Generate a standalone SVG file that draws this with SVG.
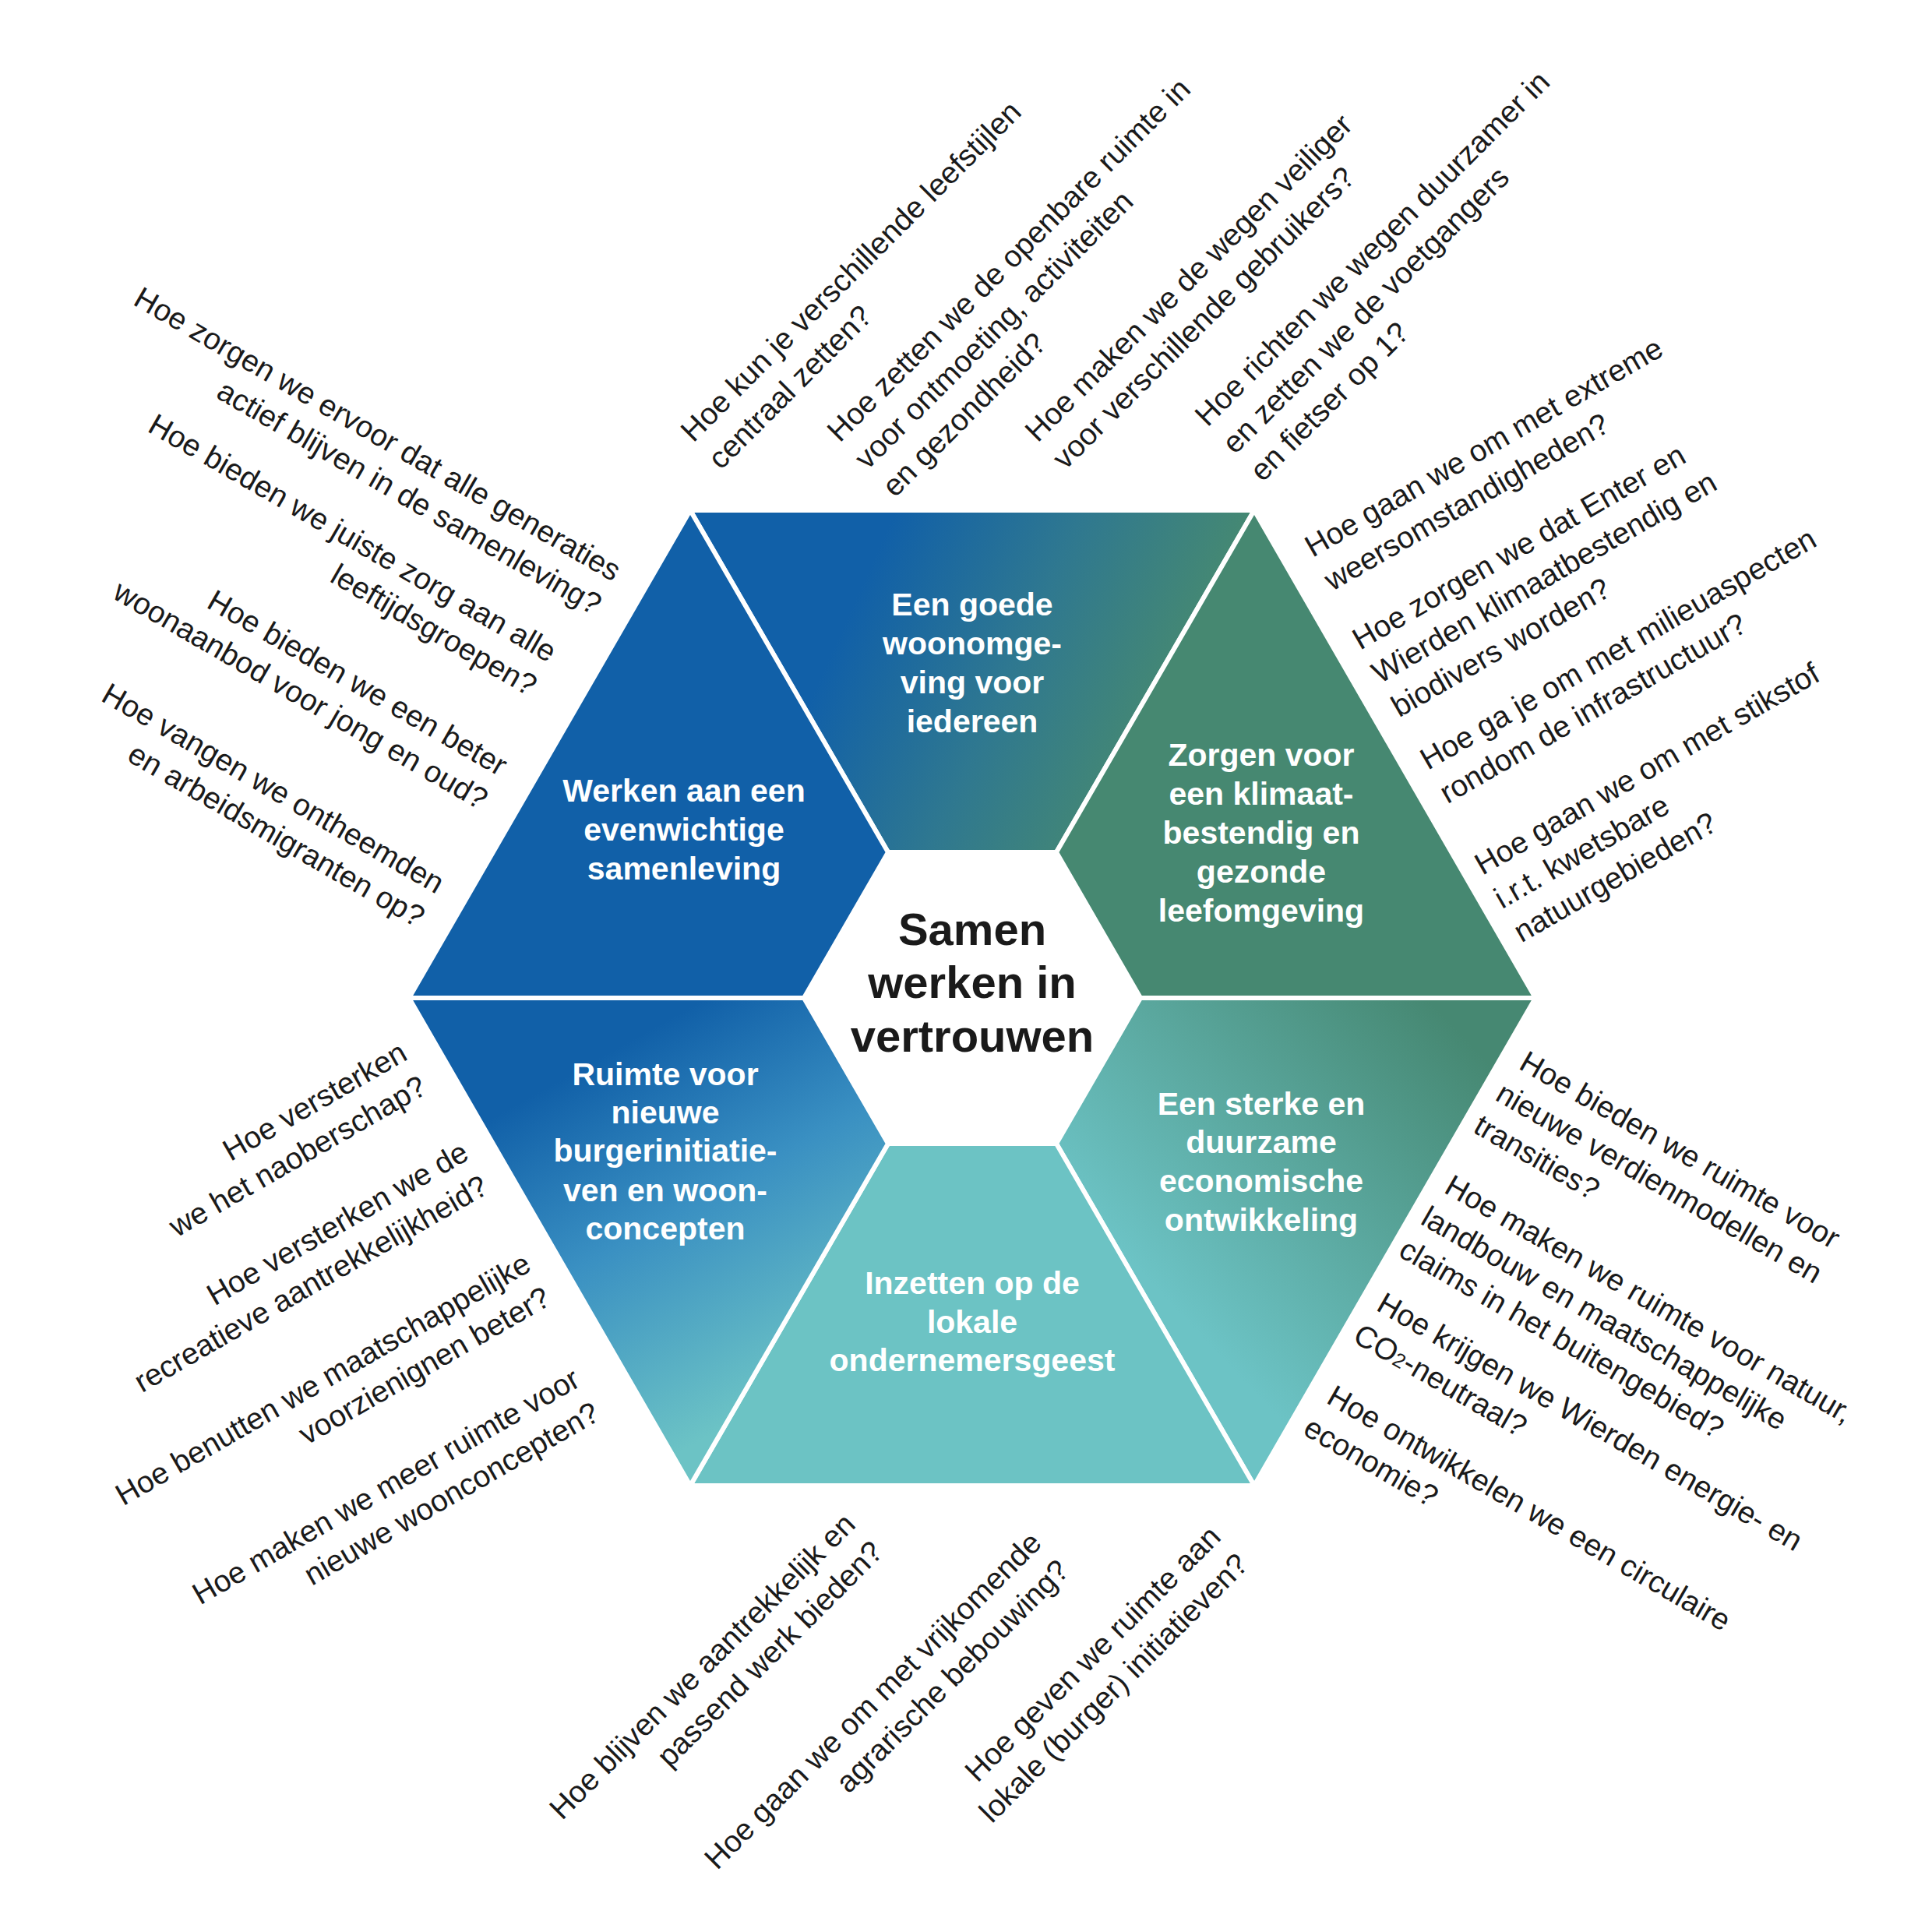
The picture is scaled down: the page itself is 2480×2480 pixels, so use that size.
<svg xmlns="http://www.w3.org/2000/svg" width="2480" height="2480" viewBox="0 0 2480 2480">
<defs>
<linearGradient id="gTop" gradientUnits="userSpaceOnUse" x1="1120" y1="720" x2="1520" y2="900"><stop offset="0" stop-color="#1160a8"/><stop offset="0.5" stop-color="#2f7890"/><stop offset="1" stop-color="#478a70"/></linearGradient>
<linearGradient id="gBR" gradientUnits="userSpaceOnUse" x1="1850" y1="1300" x2="1480" y2="1650"><stop offset="0" stop-color="#468872"/><stop offset="1" stop-color="#6cc3c5"/></linearGradient>
<linearGradient id="gBL" gradientUnits="userSpaceOnUse" x1="820" y1="1330" x2="1060" y2="1760"><stop offset="0" stop-color="#1160a8"/><stop offset="0.45" stop-color="#3a90c2"/><stop offset="1" stop-color="#6cc3c5"/></linearGradient>
</defs>
<style>
.seg{stroke:#fff;stroke-width:6;stroke-linejoin:miter}
.lab{font-family:"Liberation Sans",Arial,sans-serif;font-weight:bold;font-size:41px;fill:#fff;text-anchor:middle}
.ctr{font-family:"Liberation Sans",Arial,sans-serif;font-weight:bold;font-size:58px;fill:#1a1a1a;text-anchor:middle}
.q{font-family:"Liberation Sans",Arial,sans-serif;font-size:39px;fill:#1a1a1a}
.e{text-anchor:end}
</style>
<rect width="2480" height="2480" fill="#fff"/>
<g id="hexagon">
<polygon id="seg-top" class="seg" fill="url(#gTop)" points="886,655 1610,655 1356,1094 1140,1094"/>
<polygon id="seg-tr" class="seg" fill="#468871" points="1610,655 1971,1281 1464,1281 1356,1094"/>
<polygon id="seg-br" class="seg" fill="url(#gBR)" points="1971,1281 1610,1907 1356,1468 1464,1281"/>
<polygon id="seg-b" class="seg" fill="#6cc3c4" points="1610,1907 886,1907 1140,1468 1356,1468"/>
<polygon id="seg-bl" class="seg" fill="url(#gBL)" points="886,1907 525,1281 1032,1281 1140,1468"/>
<polygon id="seg-tl" class="seg" fill="#1160a8" points="525,1281 886,655 1140,1094 1032,1281"/>
</g>
<g id="labels">
<text class="lab"><tspan x="1248" y="790">Een goede</tspan><tspan x="1248" y="840">woonomge-</tspan><tspan x="1248" y="890">ving voor</tspan><tspan x="1248" y="940">iedereen</tspan></text>
<text class="lab"><tspan x="878" y="1029">Werken aan een</tspan><tspan x="878" y="1079">evenwichtige</tspan><tspan x="878" y="1129">samenleving</tspan></text>
<text class="lab"><tspan x="1619" y="983">Zorgen voor</tspan><tspan x="1619" y="1033">een klimaat-</tspan><tspan x="1619" y="1083">bestendig en</tspan><tspan x="1619" y="1133">gezonde</tspan><tspan x="1619" y="1183">leefomgeving</tspan></text>
<text class="lab"><tspan x="854" y="1393">Ruimte voor</tspan><tspan x="854" y="1442">nieuwe</tspan><tspan x="854" y="1491">burgerinitiatie-</tspan><tspan x="854" y="1542">ven en woon-</tspan><tspan x="854" y="1591">concepten</tspan></text>
<text class="lab"><tspan x="1619" y="1431">Een sterke en</tspan><tspan x="1619" y="1480">duurzame</tspan><tspan x="1619" y="1530">economische</tspan><tspan x="1619" y="1580">ontwikkeling</tspan></text>
<text class="lab"><tspan x="1248" y="1661">Inzetten op de</tspan><tspan x="1248" y="1711">lokale</tspan><tspan x="1248" y="1760">ondernemersgeest</tspan></text>
<text class="ctr"><tspan x="1248" y="1213">Samen</tspan><tspan x="1248" y="1281">werken in</tspan><tspan x="1248" y="1350">vertrouwen</tspan></text>
</g>
<g id="questions">
<text class="q" transform="translate(890,569) rotate(-45)"><tspan x="0" y="0">Hoe kun je verschillende leefstijlen</tspan><tspan x="0" y="50">centraal zetten?</tspan></text>
<text class="q" transform="translate(1078,569) rotate(-45)"><tspan x="0" y="0">Hoe zetten we de openbare ruimte in</tspan><tspan x="0" y="50">voor ontmoeting, activiteiten</tspan><tspan x="0" y="100">en gezondheid?</tspan></text>
<text class="q" transform="translate(1332,569) rotate(-45)"><tspan x="0" y="0">Hoe maken we de wegen veiliger</tspan><tspan x="0" y="50">voor verschillende gebruikers?</tspan></text>
<text class="q" transform="translate(1550,549) rotate(-45)"><tspan x="0" y="0">Hoe richten we wegen duurzamer in</tspan><tspan x="0" y="50">en zetten we de voetgangers</tspan><tspan x="0" y="100">en fietser op 1?</tspan></text>

<text class="q" transform="translate(1685,716) rotate(-30)"><tspan x="0" y="0">Hoe gaan we om met extreme</tspan><tspan x="0" y="50">weersomstandigheden?</tspan></text>
<text class="q" transform="translate(1746,835) rotate(-30)"><tspan x="0" y="0">Hoe zorgen we dat Enter en</tspan><tspan x="0" y="50">Wierden klimaatbestendig en</tspan><tspan x="0" y="100">biodivers worden?</tspan></text>
<text class="q" transform="translate(1833,989) rotate(-30)"><tspan x="0" y="0">Hoe ga je om met milieuaspecten</tspan><tspan x="0" y="50">rondom de infrastructuur?</tspan></text>
<text class="q" transform="translate(1903,1124) rotate(-30)"><tspan x="0" y="0">Hoe gaan we om met stikstof</tspan><tspan x="0" y="50">i.r.t. kwetsbare</tspan><tspan x="0" y="100">natuurgebieden?</tspan></text>

<text class="q e" transform="translate(787,747) rotate(30)"><tspan x="0" y="0">Hoe zorgen we ervoor dat alle generaties</tspan><tspan x="0" y="50">actief blijven in de samenleving?</tspan></text>
<text class="q e" transform="translate(704,851) rotate(30)"><tspan x="0" y="0">Hoe bieden we juiste zorg aan alle</tspan><tspan x="0" y="50">leeftijdsgroepen?</tspan></text>
<text class="q e" transform="translate(641,997) rotate(30)"><tspan x="0" y="0">Hoe bieden we een beter</tspan><tspan x="0" y="50">woonaanbod  voor jong en oud?</tspan></text>
<text class="q e" transform="translate(560,1148) rotate(30)"><tspan x="0" y="0">Hoe vangen we ontheemden</tspan><tspan x="0" y="50">en arbeidsmigranten op?</tspan></text>

<text class="q e" transform="translate(525,1359) rotate(-30)"><tspan x="0" y="0">Hoe versterken</tspan><tspan x="0" y="50">we het naoberschap?</tspan></text>
<text class="q e" transform="translate(604,1487) rotate(-30)"><tspan x="0" y="0">Hoe versterken we de</tspan><tspan x="0" y="50">recreatieve aantrekkelijkheid?</tspan></text>
<text class="q e" transform="translate(684,1630) rotate(-30)"><tspan x="0" y="0">Hoe benutten we maatschappelijke</tspan><tspan x="0" y="50">voorzienignen beter?</tspan></text>
<text class="q e" transform="translate(747,1778) rotate(-30)"><tspan x="0" y="0">Hoe maken we meer ruimte voor</tspan><tspan x="0" y="50">nieuwe woonconcepten?</tspan></text>

<text class="q e" transform="translate(1100,1959) rotate(-45)"><tspan x="0" y="0">Hoe blijven we aantrekkelijk en</tspan><tspan x="0" y="50">passend werk bieden?</tspan></text>
<text class="q e" transform="translate(1339,1983) rotate(-45)"><tspan x="0" y="0">Hoe gaan we om met vrijkomende</tspan><tspan x="0" y="50">agrarische bebouwing?</tspan></text>
<text class="q e" transform="translate(1569,1975) rotate(-45)"><tspan x="0" y="0">Hoe geven we ruimte aan</tspan><tspan x="0" y="50">lokale (burger) initiatieven?</tspan></text>

<text class="q" transform="translate(1948,1371) rotate(30)"><tspan x="0" y="0">Hoe bieden we ruimte voor</tspan><tspan x="-6" y="50">nieuwe verdienmodellen en</tspan><tspan x="-10" y="100">transities?</tspan></text>
<text class="q" transform="translate(1852,1530) rotate(30)"><tspan x="0" y="0">Hoe maken we ruimte voor natuur,</tspan><tspan x="-6" y="50">landbouw en maatschappelijke</tspan><tspan x="-10" y="100">claims in het buitengebied?</tspan></text>
<text class="q" transform="translate(1765,1681) rotate(30)"><tspan x="0" y="0">Hoe krijgen we Wierden energie- en</tspan><tspan x="-6" y="50">CO<tspan font-size="26">2</tspan>-neutraal?</tspan></text>
<text class="q" transform="translate(1701,1800) rotate(30)"><tspan x="0" y="0">Hoe ontwikkelen we een circulaire</tspan><tspan x="-6" y="50">economie?</tspan></text>
</g>
</svg>
